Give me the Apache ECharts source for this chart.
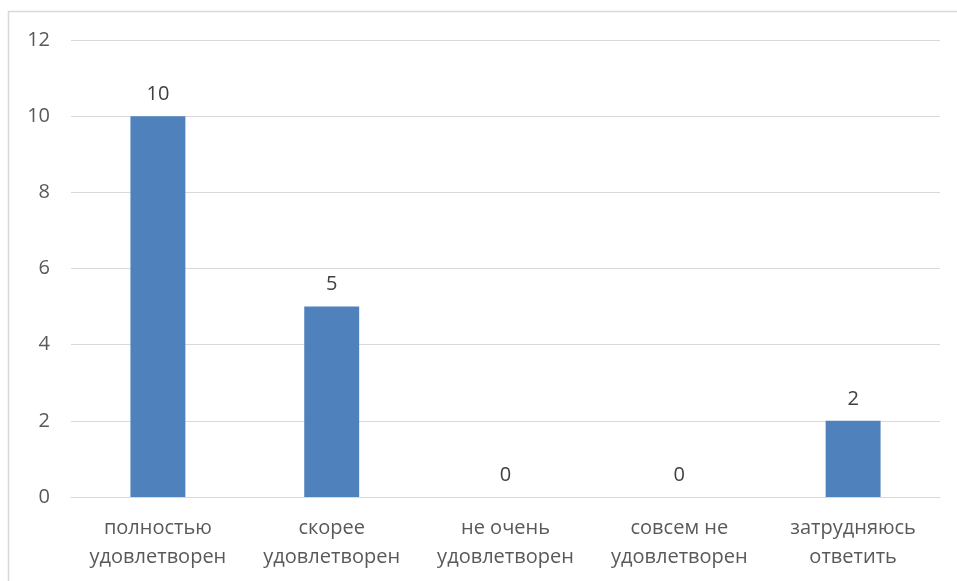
<!DOCTYPE html>
<html><head><meta charset="utf-8">
<script src="https://cdn.jsdelivr.net/npm/echarts@6/dist/echarts.min.js"></script>
<style>html,body{margin:0;padding:0;background:#fff}#c{width:957px;height:581px}</style>
</head><body><div id="c"></div>
<script>
const categories = ['полностью\nудовлетворен', 'скорее\nудовлетворен', 'не очень\nудовлетворен', 'совсем не\nудовлетворен', 'затрудняюсь\nответить'];
const values = [10, 5, 0, 0, 2];
const yTicks = [0, 2, 4, 6, 8, 10, 12];

const chart = echarts.init(document.getElementById('c'));
const font = 'Open Sans, Liberation Sans, Arial, sans-serif';
chart.setOption({
  animation: false,
  graphic: [{
    type: 'rect', shape: { x: 8.5, y: 11.5, width: 1000, height: 700 },
    style: { fill: 'none', stroke: '#d9d9d9', lineWidth: 1.5 }, silent: true
  }],
  grid: { left: 71, right: 17, top: 40, bottom: 84, containLabel: false },
  xAxis: {
    type: 'category', data: categories,
    axisLine: { show: true, lineStyle: { color: '#d9d9d9', width: 1 } },
    axisTick: { show: false },
    axisLabel: { color: '#595959', fontSize: 20, fontFamily: font, lineHeight: 29, margin: 17, interval: 0 }
  },
  yAxis: {
    type: 'value', min: yTicks[0], max: yTicks[yTicks.length - 1], interval: 2,
    axisLine: { show: false }, axisTick: { show: false },
    splitLine: { lineStyle: { color: '#d9d9d9', width: 1 } },
    axisLabel: { color: '#595959', fontSize: 20, fontFamily: font, margin: 21 }
  },
  series: [{
    type: 'bar', data: values, barWidth: '31.6%',
    itemStyle: { color: '#4f81bd' },
    label: { show: true, position: 'top', distance: 12, color: '#404040', fontSize: 20, fontFamily: font }
  }]
});
</script></body></html>
